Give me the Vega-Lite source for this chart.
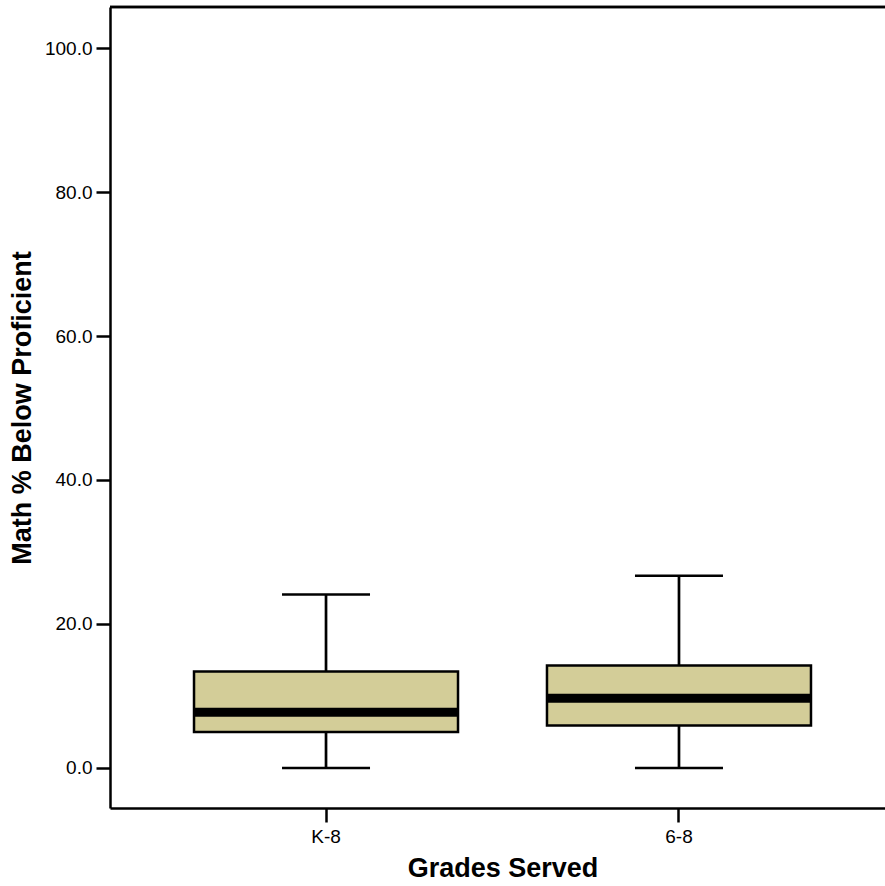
{
  "$schema": "https://vega.github.io/schema/vega-lite/v6.json",
  "width": 775,
  "height": 801,
  "autosize": {"type": "none"},
  "padding": {"left": 110, "top": 7, "right": 0, "bottom": 78},
  "background": "white",
  "config": {
    "view": {"stroke": null},
    "font": "Liberation Sans",
    "axis": {
      "domainColor": "black", "domainWidth": 2.5,
      "tickColor": "black", "tickWidth": 2.5, "tickSize": 14,
      "labelColor": "black", "labelFontSize": 19, "labelFont": "Liberation Sans",
      "titleColor": "black", "titleFontSize": 27, "titleFont": "Liberation Sans", "titleFontWeight": "bold",
      "grid": false
    }
  },
  "data": {
    "values": [
      {"grades": "K-8", "min": 0, "q1": 5.0, "median": 7.75, "q3": 13.4, "max": 24.1},
      {"grades": "6-8", "min": 0, "q1": 5.9, "median": 9.7, "q3": 14.25, "max": 26.7}
    ]
  },
  "encoding": {
    "x": {
      "field": "grades", "type": "nominal", "sort": null,
      "scale": {"type": "band", "range": [0, 785], "paddingInner": 0, "paddingOuter": 0.112},
      "axis": {"title": "Grades Served", "labelAngle": 0, "labelPadding": 5, "titlePadding": 9}
    }
  },
  "layer": [
    {
      "mark": {"type": "rule", "stroke": "black", "strokeWidth": 2.7},
      "encoding": {
        "y": {"field": "min", "type": "quantitative",
          "scale": {"domain": [-5.56, 105.7], "nice": false, "zero": false},
          "axis": {"title": "Math % Below Proficient", "values": [0, 20, 40, 60, 80, 100], "format": ".1f", "labelPadding": 4, "titlePadding": 8}},
        "y2": {"field": "max"}
      }
    },
    {
      "mark": {"type": "bar", "size": 264, "fill": "#d3cd98", "stroke": "black", "strokeWidth": 2.5},
      "encoding": {
        "y": {"field": "q1", "type": "quantitative"},
        "y2": {"field": "q3"}
      }
    },
    {
      "mark": {"type": "tick", "size": 264, "thickness": 9, "color": "black", "opacity": 1},
      "encoding": {"y": {"field": "median", "type": "quantitative"}}
    },
    {
      "mark": {"type": "tick", "size": 88, "thickness": 2.5, "color": "black", "opacity": 1},
      "encoding": {"y": {"field": "max", "type": "quantitative"}}
    },
    {
      "mark": {"type": "tick", "size": 88, "thickness": 2.5, "color": "black", "opacity": 1},
      "encoding": {"y": {"field": "min", "type": "quantitative"}}
    },
    {
      "mark": {"type": "rule", "stroke": "black", "strokeWidth": 2.5},
      "encoding": {"y": {"datum": 105.7, "type": "quantitative"}, "x": null}
    }
  ]
}
